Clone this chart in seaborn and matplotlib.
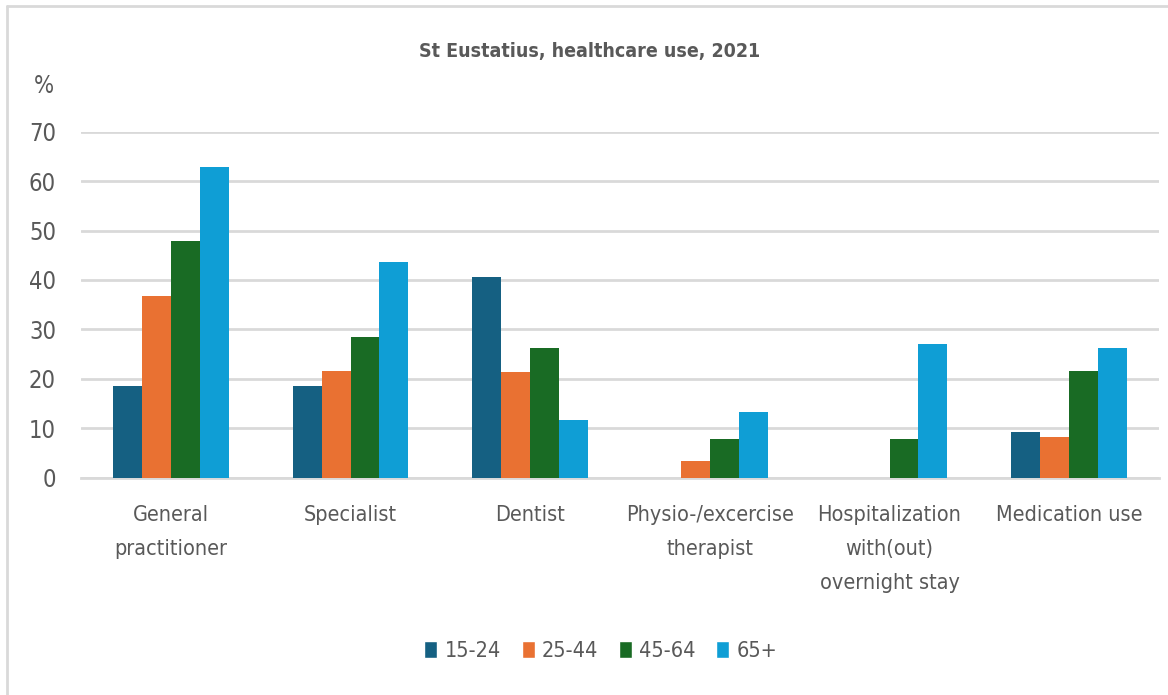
import matplotlib
matplotlib.use("Agg")
import matplotlib.pyplot as plt
import matplotlib.patches as mpatches
import matplotlib.lines as mlines
import pandas as pd
import seaborn as sns

# data
categories = [
    "General\npractitioner",
    "Specialist",
    "Dentist",
    "Physio-/excercise\ntherapist",
    "Hospitalization\nwith(out)\novernight stay",
    "Medication use",
]
age_groups = ["15-24", "25-44", "45-64", "65+"]
age_15_24 = [18.6, 18.6, 40.6, 0, 0, 9.2]
age_25_44 = [36.7, 21.5, 21.3, 3.3, 0, 8.3]
age_45_64 = [47.9, 28.5, 26.3, 7.9, 7.9, 21.6]
age_65_plus = [62.8, 43.7, 11.6, 13.2, 27.0, 26.3]
colors = ["#156082", "#E97132", "#196B24", "#0F9ED5"]

rows = []
for group, vals in zip(age_groups, [age_15_24, age_25_44, age_45_64, age_65_plus]):
    for cat, v in zip(categories, vals):
        rows.append({"category": cat, "age": group, "pct": v})
df = pd.DataFrame(rows)

sns.set_theme(style="white")
plt.rcParams["font.family"] = ["DejaVu Sans"]
plt.rcParams["font.stretch"] = "condensed"
text_color = "#595959"
grid_color = "#D9D9D9"

fig = plt.figure(figsize=(11.68, 6.95), dpi=100)
ax = fig.add_axes([81 / 1168, 1 - 477.7 / 695, (1159 - 81) / 1168, (477.7 - 131.7) / 695])

sns.barplot(data=df, x="category", y="pct", hue="age", hue_order=age_groups,
            palette=colors, width=0.645, saturation=1, linewidth=0, ax=ax,
            legend=False, zorder=3)

ax.set_ylim(0, 70)
ax.set_yticks(range(0, 71, 10))
ax.set_xlabel("")
ax.set_ylabel("")
ax.yaxis.grid(True, color=grid_color, linewidth=2)
ax.set_axisbelow(True)
for side in ["top", "right", "left"]:
    ax.spines[side].set_visible(False)
ax.spines["bottom"].set_color(grid_color)
ax.spines["bottom"].set_linewidth(2)
ax.tick_params(axis="y", length=0, pad=18, labelsize=17, labelcolor=text_color)
ax.tick_params(axis="x", length=0, pad=20, labelsize=15.5, labelcolor=text_color)
for lbl in ax.get_xticklabels():
    lbl.set_linespacing(1.85)
    lbl.set_verticalalignment("top")

fig.text(590 / 1168, 1 - 52 / 695, "St Eustatius, healthcare use, 2021",
         ha="center", va="center", fontsize=14, fontweight="bold", color=text_color)
fig.text(44 / 1168, 1 - 86 / 695, "%", ha="center", va="center",
         fontsize=17, color=text_color)

handles = [mpatches.Patch(facecolor=c, label=g) for c, g in zip(colors, age_groups)]
fig.legend(handles=handles, loc="center", ncol=4, frameon=False,
           bbox_to_anchor=(601 / 1168, 1 - 651 / 695), fontsize=15.5,
           handlelength=0.6, handleheight=0.8, handletextpad=0.35,
           columnspacing=0.95, labelcolor=text_color)

# light chart-area frame: only left and top edges are visible in the reference
fx, fy = 7 / 1168, 1 - 6 / 695
fig.lines.append(mlines.Line2D([fx, fx], [0, fy], transform=fig.transFigure,
                               color=grid_color, linewidth=2))
fig.lines.append(mlines.Line2D([fx, 1], [fy, fy], transform=fig.transFigure,
                               color=grid_color, linewidth=2))

fig.savefig("out.png", dpi=100)
